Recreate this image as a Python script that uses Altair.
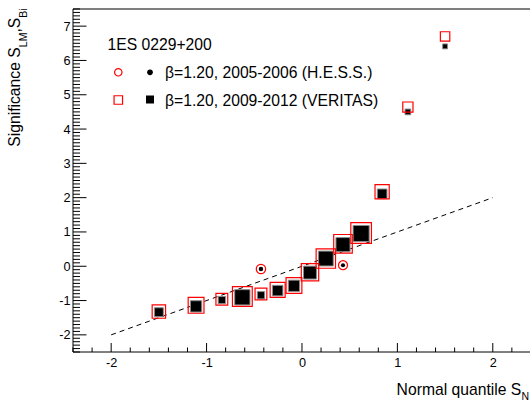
import altair as alt
import pandas as pd
import numpy as np

# ---------------- data ----------------
# VERITAS 2009-2012: normal quantile, S_LM (red open), S_Bi (black filled), marker weight
q_veritas = [-1.50, -1.11, -0.84, -0.625, -0.43, -0.255, -0.084, 0.084, 0.25, 0.43, 0.62, 0.84, 1.11, 1.50]
s_lm_veritas = [-1.32, -1.14, -0.96, -0.88, -0.81, -0.69, -0.56, -0.175, 0.225, 0.655, 0.97, 2.17, 4.64, 6.70]
s_bi_veritas = [-1.34, -1.17, -0.985, -0.905, -0.845, -0.71, -0.57, -0.185, 0.225, 0.63, 0.955, 2.11, 4.50, 6.41]
w_veritas = [1.8, 2.1, 1.6, 2.6, 1.6, 2.0, 2.1, 2.3, 2.55, 2.45, 2.7, 1.9, 1.4, 1.3]

# H.E.S.S. 2005-2006
q_hess = [-0.43, 0.43]
s_lm_hess = [-0.08, 0.03]
s_bi_hess = [-0.08, 0.03]
w_hess = [1.45, 1.4]

# reference line S = quantile
ref_x = [-2, 2]
ref_y = [-2, 2]

x_major = [-2, -1, 0, 1, 2]
y_major = [-2, -1, 0, 1, 2, 3, 4, 5, 6, 7]

# ---------------- layout / style ----------------
F = "Liberation Sans"
W, H = 457, 343
xs = alt.Scale(domain=[-2.4, 2.39], nice=False, zero=False)
ys = alt.Scale(domain=[-2.5, 7.5], nice=False, zero=False)

xa = alt.Axis(values=x_major, labelExpr="'' + datum.value", ticks=False, domain=False, grid=False,
              labelFont=F, labelFontSize=12.7, labelColor="black", labelPadding=4,
              labelFlush=False, labelOverlap=False, title=None)
ya = alt.Axis(values=y_major, labelExpr="'' + datum.value", ticks=False, domain=False, grid=False,
              labelFont=F, labelFontSize=12.7, labelColor="black", labelPadding=3,
              labelFlush=False, labelOverlap=False, title=None)

x_minor = [round(v, 2) for v in np.arange(-2.4, 2.4001, 0.2) if abs(v - round(v)) > 1e-6]
y_minor = [round(v, 2) for v in np.arange(-2.5, 7.5001, 0.1) if abs(v - round(v)) > 1e-6]

one = alt.Data(values=[{}])

veritas = pd.DataFrame({"q": q_veritas, "lm": s_lm_veritas, "bi": s_bi_veritas, "w": w_veritas})
hess = pd.DataFrame({"q": q_hess, "lm": s_lm_hess, "bi": s_bi_hess, "w": w_hess})
ref = pd.DataFrame({"x": ref_x, "y": ref_y})

X = lambda f: alt.X(f, scale=xs, axis=xa)
Y = lambda f: alt.Y(f, scale=ys, axis=ya)

layers = []

# frame (left, top, bottom)
layers.append(alt.Chart(one).mark_rule(color="black", strokeWidth=1).encode(
    x=alt.value(0), y=alt.value(0), y2=alt.value(H)))
layers.append(alt.Chart(one).mark_rule(color="black", strokeWidth=1).encode(
    x=alt.value(0), x2=alt.value(W), y=alt.value(0)))
layers.append(alt.Chart(one).mark_rule(color="black", strokeWidth=1).encode(
    x=alt.value(0), x2=alt.value(W), y=alt.value(H)))

# ticks (inside the frame)
layers.append(alt.Chart(pd.DataFrame({"v": y_major})).mark_rule(color="black", strokeWidth=1).encode(
    y=Y("v:Q"), x=alt.value(0), x2=alt.value(13.5)))
layers.append(alt.Chart(pd.DataFrame({"v": y_minor})).mark_rule(color="black", strokeWidth=1).encode(
    y=Y("v:Q"), x=alt.value(0), x2=alt.value(7)))
layers.append(alt.Chart(pd.DataFrame({"v": x_major})).mark_rule(color="black", strokeWidth=1).encode(
    x=X("v:Q"), y=alt.value(H), y2=alt.value(H - 9)))
layers.append(alt.Chart(pd.DataFrame({"v": x_minor})).mark_rule(color="black", strokeWidth=1).encode(
    x=X("v:Q"), y=alt.value(H), y2=alt.value(H - 4.5)))

# dashed reference line
layers.append(alt.Chart(ref).mark_line(color="black", strokeWidth=1, strokeDash=[5, 4]).encode(
    x=X("x:Q"), y=Y("y:Q")))

# VERITAS black filled squares (S_Bi)
layers.append(alt.Chart(veritas).transform_calculate(sz="pow(8*datum.w - 5.5, 2)").mark_point(
    shape="square", filled=True, fill="black", stroke="#8a8a8a", strokeWidth=1, opacity=1).encode(
    x=X("q:Q"), y=Y("bi:Q"), size=alt.Size("sz:Q", scale=None, legend=None)))
# VERITAS red open squares (S_LM)
layers.append(alt.Chart(veritas).transform_calculate(sz="pow(8*datum.w - 1, 2)").mark_point(
    shape="square", filled=False, stroke="#ff0000", strokeWidth=1.2, opacity=1).encode(
    x=X("q:Q"), y=Y("lm:Q"), size=alt.Size("sz:Q", scale=None, legend=None)))

# HESS red open circles (S_LM) and black dots (S_Bi)
layers.append(alt.Chart(hess).transform_calculate(sz="PI*pow((8*datum.w - 1)/2, 2)").mark_point(
    shape="circle", filled=False, stroke="#ff0000", strokeWidth=1.2, opacity=1).encode(
    x=X("q:Q"), y=Y("lm:Q"), size=alt.Size("sz:Q", scale=None, legend=None)))
layers.append(alt.Chart(hess).transform_calculate(sz="PI*pow((8*datum.w - 6.5)/2, 2)").mark_point(
    shape="circle", filled=True, fill="black", opacity=1).encode(
    x=X("q:Q"), y=Y("bi:Q"), size=alt.Size("sz:Q", scale=None, legend=None)))

# legend
def txt(s, x, y, size=15.7, angle=None, align="left"):
    kw = dict(font=F, fontSize=size, color="black", align=align, baseline="alphabetic")
    if angle is not None:
        kw["angle"] = angle
    return alt.Chart(one).mark_text(**kw).encode(x=alt.value(x), y=alt.value(y), text=alt.value(s))

layers.append(txt("1ES 0229+200", 34.5, 40.5))
layers.append(txt("\u03b2=1.20, 2005-2006 (H.E.S.S.)", 92, 68.9))
layers.append(txt("\u03b2=1.20, 2009-2012 (VERITAS)", 92, 96.6))
layers.append(alt.Chart(one).mark_point(shape="circle", filled=False, stroke="#ff0000", strokeWidth=1.2,
                                        opacity=1, size=55).encode(x=alt.value(45.3), y=alt.value(63.3)))
layers.append(alt.Chart(one).mark_point(shape="circle", filled=True, fill="black", opacity=1,
                                        size=32).encode(x=alt.value(77), y=alt.value(63.3)))
layers.append(alt.Chart(one).mark_point(shape="square", filled=False, stroke="#ff0000", strokeWidth=1.2,
                                        opacity=1, size=72).encode(x=alt.value(45.3), y=alt.value(91)))
layers.append(alt.Chart(one).mark_point(shape="square", filled=True, fill="black", opacity=1,
                                        size=64).encode(x=alt.value(77), y=alt.value(90.5)))

# y title: Significance S_LM,S_Bi (rotated)
layers.append(txt("Significance S", -53, 137.7, angle=270))
layers.append(txt("LM", -46, 38.2, size=10.5, angle=270))
layers.append(txt(",", -53, 23.6, angle=270))
layers.append(txt("S", -53, 19.2, angle=270))
layers.append(txt("Bi", -46, 8.7, size=10.5, angle=270))

# x title: Normal quantile S_N
layers.append(txt("Normal quantile S", 323.6, 386))
layers.append(txt("N", 448.4, 390.5, size=10.5))

chart = alt.layer(*layers).properties(
    width=W, height=H,
    autosize=alt.AutoSizeParams(type="none"),
    padding={"left": 73, "top": 9, "right": 0, "bottom": 51},
    background="white",
).configure_view(stroke=None)

chart.save("out.html", embed_options={"renderer": "svg", "actions": False})
